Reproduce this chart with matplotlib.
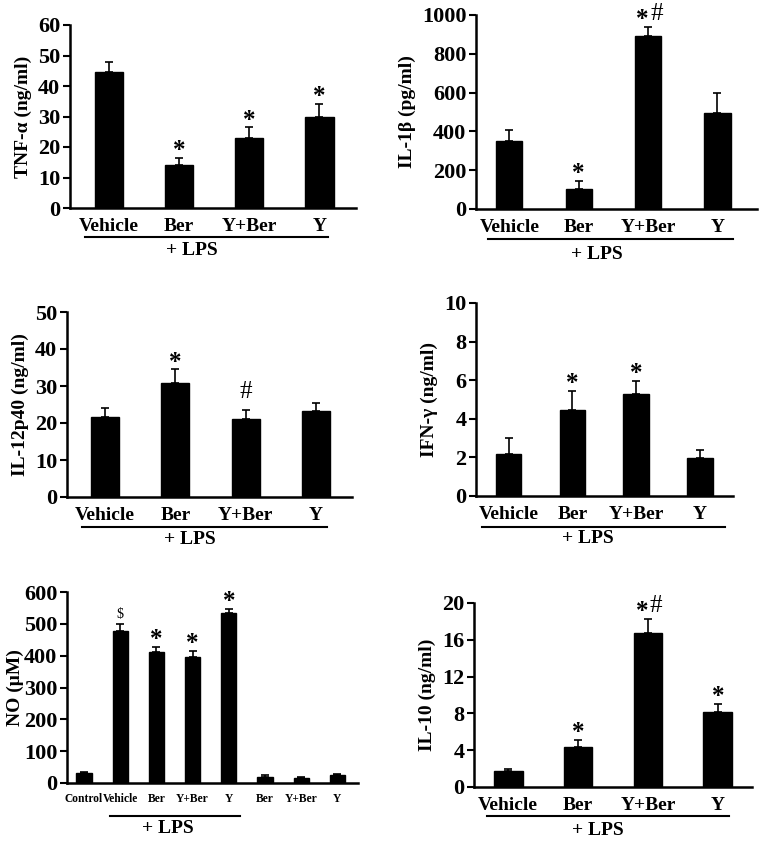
import matplotlib
matplotlib.use("Agg")
import matplotlib.pyplot as plt
import numpy as np

plt.rcParams["font.family"] = ["Liberation Serif", "DejaVu Serif"]
plt.rcParams["font.weight"] = "bold"

# ---- data ----
groups4 = ["Vehicle", "Ber", "Y+Ber", "Y"]
groups_no = ["Control", "Vehicle", "Ber", "Y+Ber", "Y", "Ber", "Y+Ber", "Y"]

tnf_mean = [44.5, 14.0, 22.8, 29.7]
tnf_err = [3.3, 2.3, 3.6, 4.3]
tnf_marks = ["", "*", "*", "*"]

il1b_mean = [348, 105, 893, 493]
il1b_err = [60, 38, 47, 104]
il1b_marks = ["", "*", "*#", ""]

il12_mean = [21.7, 30.8, 21.0, 23.2]
il12_err = [2.3, 3.7, 2.5, 2.2]
il12_marks = ["", "*", "#", ""]

ifng_mean = [2.2, 4.45, 5.27, 1.95]
ifng_err = [0.8, 1.0, 0.68, 0.45]
ifng_marks = ["", "*", "*", ""]

no_mean = [30, 478, 411, 396, 533, 20, 17, 25]
no_err = [5, 22, 16, 18, 13, 4, 3, 4]
no_marks = ["", "$", "*", "*", "*", "", "", ""]

il10_mean = [1.75, 4.3, 16.7, 8.1]
il10_err = [0.25, 0.8, 1.6, 0.9]
il10_marks = ["", "*", "*#", "*"]

FIG_W, FIG_H = 762, 841


def make_axes(fig, x0, x1, ytop, y0):
    """Axes placed from pixel coordinates of the reference."""
    return fig.add_axes([x0 / FIG_W, 1 - y0 / FIG_H, (x1 - x0) / FIG_W, (y0 - ytop) / FIG_H])


def bar_panel(ax, labels, means, errs, marks, ylabel, yticks, xlim, width,
              lps_span, lps_y, lps_x, lps_text_y, label_size=14, mark_pad=1, labelpad=4):
    x = np.arange(len(labels))
    ax.bar(x, means, width=width, color="black", edgecolor="black", zorder=2)
    ax.errorbar(x, means, yerr=[np.zeros(len(means)), errs], fmt="none",
                ecolor="black", elinewidth=1.2, capsize=3, capthick=1.2, zorder=1)
    for xi, m, e, s in zip(x, means, errs, marks):
        if not s:
            continue
        if s == "$":
            ax.annotate(s, (xi, m + e), xytext=(0, mark_pad + 1), textcoords="offset points",
                        ha="center", va="bottom", fontsize=10, fontweight="normal")
        elif s == "#":
            ax.annotate(s, (xi, m + e), xytext=(0, mark_pad + 4), textcoords="offset points",
                        ha="center", va="bottom", fontsize=18, fontweight="normal")
        elif s == "*#":
            ax.annotate("*", (xi, m + e), xytext=(-4, mark_pad - 4), textcoords="offset points",
                        ha="center", va="bottom", fontsize=18, fontweight="bold")
            ax.annotate("#", (xi, m + e), xytext=(6, mark_pad), textcoords="offset points",
                        ha="center", va="bottom", fontsize=18, fontweight="normal")
        else:
            ax.annotate(s, (xi, m + e), xytext=(0, mark_pad - 4), textcoords="offset points",
                        ha="center", va="bottom", fontsize=18, fontweight="bold")

    ax.set_xlim(*xlim)
    ax.set_ylim(yticks[0], yticks[-1])
    ax.set_yticks(yticks)
    ax.set_yticklabels([str(t) for t in yticks], fontsize=16, fontweight="bold")
    ax.set_xticks(x)
    ax.set_xticklabels(labels, fontsize=label_size, fontweight="bold")
    ax.tick_params(axis="x", length=0, pad=7)
    ax.tick_params(axis="y", length=5, width=1.5, direction="out", pad=2)
    ax.set_ylabel(ylabel, fontsize=14, fontweight="bold", labelpad=labelpad)
    for side in ("top", "right"):
        ax.spines[side].set_visible(False)
    for side in ("left", "bottom"):
        ax.spines[side].set_linewidth(1.8)

    tr = ax.get_xaxis_transform()
    ax.plot(lps_span, [lps_y, lps_y], color="black", lw=1.5, transform=tr, clip_on=False)
    ax.text(lps_x, lps_text_y, "+ LPS", transform=tr, ha="center", va="center",
            fontsize=14, fontweight="bold")


fig = plt.figure(figsize=(FIG_W / 100, FIG_H / 100), dpi=100)

ax1 = make_axes(fig, 70, 356, 25, 208)
bar_panel(ax1, groups4, tnf_mean, tnf_err, tnf_marks, "TNF-\u03b1 (ng/ml)",
          [0, 10, 20, 30, 40, 50, 60], (-0.55, 3.52), 0.4,
          (-0.33, 3.12), -0.158, 1.19, -0.23)

ax2 = make_axes(fig, 476, 757, 15, 209)
bar_panel(ax2, groups4, il1b_mean, il1b_err, il1b_marks, "IL-1\u03b2 (pg/ml)",
          [0, 200, 400, 600, 800, 1000], (-0.48, 3.57), 0.38,
          (-0.31, 3.23), -0.155, 1.26, -0.237)

ax3 = make_axes(fig, 67, 352, 312, 497)
bar_panel(ax3, groups4, il12_mean, il12_err, il12_marks, "IL-12p40 (ng/ml)",
          [0, 10, 20, 30, 40, 50], (-0.54, 3.51), 0.4,
          (-0.33, 3.16), -0.162, 1.21, -0.232)

ax4 = make_axes(fig, 476, 733, 303, 496)
bar_panel(ax4, groups4, ifng_mean, ifng_err, ifng_marks, "IFN-\u03b3 (ng/ml)",
          [0, 2, 4, 6, 8, 10], (-0.51, 3.52), 0.4,
          (-0.42, 3.40), -0.16, 1.25, -0.218)

ax5 = make_axes(fig, 67, 358, 592, 783)
bar_panel(ax5, groups_no, no_mean, no_err, no_marks, "NO (\u03bcM)",
          [0, 100, 200, 300, 400, 500, 600], (-0.47, 7.57), 0.42,
          (0.72, 4.31), -0.173, 2.32, -0.236, label_size=8.3, labelpad=0)

ax6 = make_axes(fig, 474, 752, 603, 787)
bar_panel(ax6, groups4, il10_mean, il10_err, il10_marks, "IL-10 (ng/ml)",
          [0, 4, 8, 12, 16, 20], (-0.49, 3.49), 0.41,
          (-0.31, 3.16), -0.158, 1.28, -0.234)

fig.savefig("out.png", dpi=100)
